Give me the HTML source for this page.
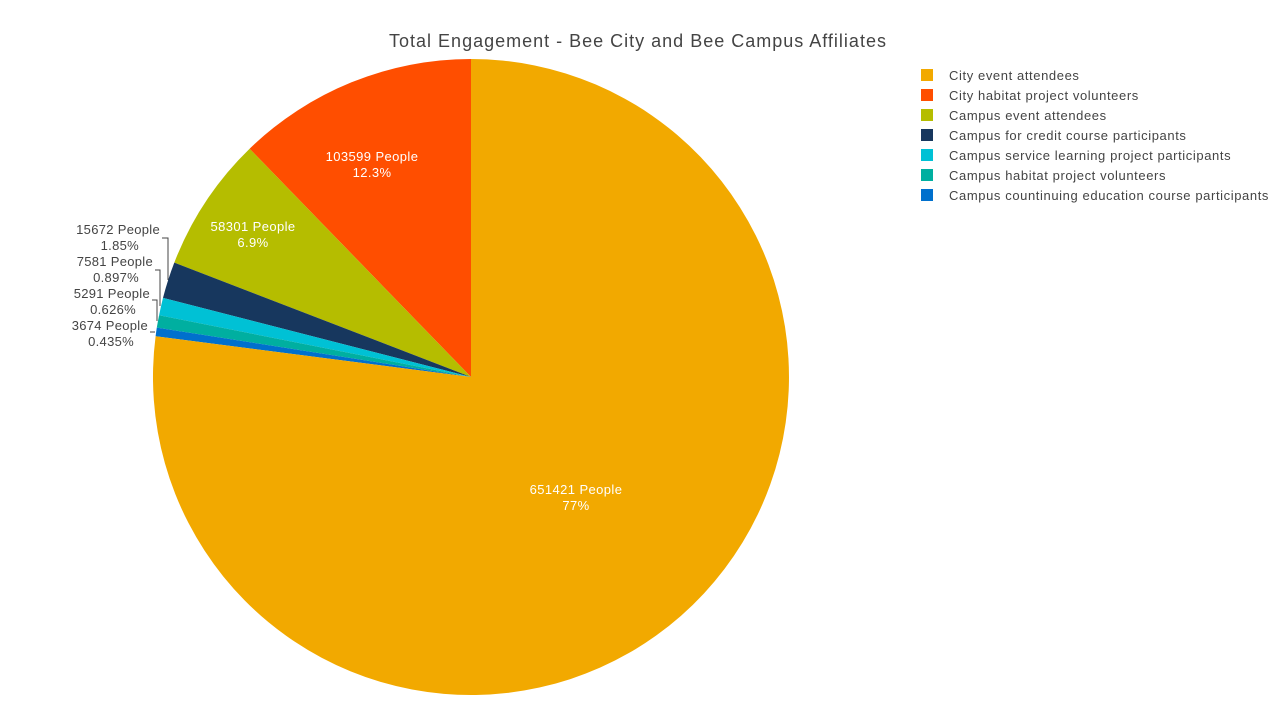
<!DOCTYPE html>
<html><head><meta charset="utf-8"><style>
body{margin:0;background:#fff;}
svg text{font-family:"Liberation Sans",Arial,sans-serif;}
</style></head><body>
<svg width="1280" height="720" viewBox="0 0 1280 720" xmlns="http://www.w3.org/2000/svg">
<rect width="1280" height="720" fill="#fff"/>
<text x="638" y="47" text-anchor="middle" font-size="18" letter-spacing="1" fill="#444">Total Engagement - Bee City and Bee Campus Affiliates</text>
<g stroke="#fff" stroke-width="0">
<path d="M471,377 L471,59 A318,318 0 0 0 249.6,148.7 Z" fill="#FF4E00"/>
<path d="M471,377 L249.6,148.7 A318,318 0 0 0 174.3,262.6 Z" fill="#B5BD00"/>
<path d="M471,377 L174.3,262.6 A318,318 0 0 0 163.0,297.9 Z" fill="#17375E"/>
<path d="M471,377 L163.0,297.9 A318,318 0 0 0 159.1,315.3 Z" fill="#00C1D5"/>
<path d="M471,377 L159.1,315.3 A318,318 0 0 0 156.8,327.6 Z" fill="#00AFA0"/>
<path d="M471,377 L156.8,327.6 A318,318 0 0 0 155.6,336.3 Z" fill="#0070CD"/>
<path d="M471,377 L155.6,336.3 A318,318 0 1 0 471,59 Z" fill="#F2A900"/>
</g>
<g font-size="13" fill="#fff" text-anchor="middle" letter-spacing="0.4">
<text x="372" y="161">103599 People</text><text x="372" y="177">12.3%</text>
<text x="253" y="231">58301 People</text><text x="253" y="247">6.9%</text>
<text x="576" y="494">651421 People</text><text x="576" y="510">77%</text>
</g>
<g font-size="13" fill="#444" text-anchor="end" letter-spacing="0.3">
<text x="160" y="234">15672 People</text><text x="139" y="250">1.85%</text>
<text x="153" y="266">7581 People</text><text x="139" y="282">0.897%</text>
<text x="150" y="298">5291 People</text><text x="136" y="314">0.626%</text>
<text x="148" y="330">3674 People</text><text x="134" y="346">0.435%</text>
</g>
<g stroke="#444" stroke-width="1" fill="none">
<polyline points="162,238 168,238 168,280"/>
<polyline points="155,270 160,270 160,306"/>
<polyline points="152,300 157,300 157,321"/>
<polyline points="150,332 155,332"/>
</g>
<g font-size="13" fill="#444" letter-spacing="0.6">
<rect x="921" y="69" width="12" height="12" fill="#F2A900"/><text x="949" y="80">City event attendees</text>
<rect x="921" y="89" width="12" height="12" fill="#FF4E00"/><text x="949" y="100">City habitat project volunteers</text>
<rect x="921" y="109" width="12" height="12" fill="#B5BD00"/><text x="949" y="120">Campus event attendees</text>
<rect x="921" y="129" width="12" height="12" fill="#17375E"/><text x="949" y="140">Campus for credit course participants</text>
<rect x="921" y="149" width="12" height="12" fill="#00C1D5"/><text x="949" y="160">Campus service learning project participants</text>
<rect x="921" y="169" width="12" height="12" fill="#00AFA0"/><text x="949" y="180">Campus habitat project volunteers</text>
<rect x="921" y="189" width="12" height="12" fill="#0070CD"/><text x="949" y="200">Campus countinuing education course participants</text>
</g>
</svg>
</body></html>
